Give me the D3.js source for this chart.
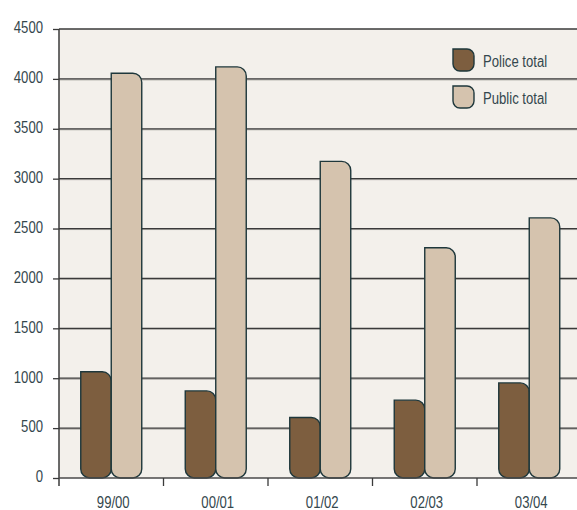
<!DOCTYPE html>
<html>
<head>
<meta charset="utf-8">
<script src="https://cdn.jsdelivr.net/npm/d3@7"></script>
<style>
  html, body { margin: 0; padding: 0; background: #ffffff; }
  svg { display: block; }
  text { font-family: "Liberation Sans", Arial, sans-serif; }
</style>
</head>
<body>
<svg id="chart" width="577" height="510"></svg>
<script>
// Data
const years = ["99/00", "00/01", "01/02", "02/03", "03/04"];
const policeTotal = [1065, 873, 607, 780, 953];
const publicTotal = [4057, 4120, 3173, 2307, 2607];
const seriesNames = ["Police total", "Public total"];
const yTicks = [0, 500, 1000, 1500, 2000, 2500, 3000, 3500, 4000, 4500];

const W = 577, H = 510;
const margin = { left: 59, top: 29 };
const bandWidth = 104.5;
const plotRight = margin.left + bandWidth * years.length; // runs past the right edge
const narrow = 0.82; // horizontal squeeze giving a condensed face

const colors = ["#7d5e3f", "#d5c3ae"];
const strokeColor = "#1e373b";
const textColor = "#34474d";
const lineColor = "#3a3a3a";

const svg = d3.select("#chart");

const x = d3.scaleBand().domain(years).range([margin.left, plotRight]);
const y = d3.scaleLinear().domain([0, 4500]).range([478, margin.top]);
const xs = d3.scaleBand().domain(seriesNames).range([0, 61]);

// Condensed text placed with its anchor at (px, py)
function label(parent, px, py, str, anchor) {
  return parent.append("text")
    .attr("transform", `translate(${px},${py}) scale(${narrow},1)`)
    .attr("text-anchor", anchor || "start")
    .attr("font-size", 16)
    .attr("fill", textColor)
    .text(str);
}

// Plot background
svg.append("rect")
  .attr("x", margin.left).attr("y", y(4500))
  .attr("width", W - margin.left).attr("height", y(0) - y(4500))
  .attr("fill", "#f3f0eb");

// Gridlines (dark line with a soft shadow)
const gridVals = yTicks.filter(d => d > 0 && d < 4500);
const grid = svg.append("g");
grid.selectAll("line.sh").data(gridVals).join("line")
  .attr("x1", margin.left).attr("x2", W)
  .attr("y1", d => y(d) + 1).attr("y2", d => y(d) + 1)
  .attr("stroke", "#a9a7a3").attr("stroke-width", 1);
grid.selectAll("line.g").data(gridVals).join("line")
  .attr("x1", margin.left).attr("x2", W)
  .attr("y1", d => y(d)).attr("y2", d => y(d))
  .attr("stroke", lineColor).attr("stroke-width", 1.3);

// Bar shape: square top-left, rounded top-right and bottom corners
function barPath(x0, x1, yTop, yBot, r) {
  const h = yBot - yTop;
  const rr = Math.min(r, h / 2, (x1 - x0) / 2);
  return `M${x0},${yTop} H${x1 - rr} A${rr},${rr} 0 0 1 ${x1},${yTop + rr} ` +
         `V${yBot - rr} A${rr},${rr} 0 0 1 ${x1 - rr},${yBot} H${x0 + rr} ` +
         `A${rr},${rr} 0 0 1 ${x0},${yBot - rr} Z`;
}

const groupOffset = (bandWidth - xs.range()[1]) / 2;
[policeTotal, publicTotal].forEach((vals, si) => {
  svg.append("g").selectAll("path").data(years).join("path")
    .attr("d", (d, i) => {
      const x0 = x(d) + groupOffset + xs(seriesNames[si]);
      return barPath(x0, x0 + xs.bandwidth(), y(vals[i]), y(0), 9);
    })
    .attr("fill", colors[si])
    .attr("stroke", strokeColor)
    .attr("stroke-width", 1.4);
});

// Top border
svg.append("line")
  .attr("x1", margin.left).attr("x2", W)
  .attr("y1", y(4500)).attr("y2", y(4500))
  .attr("stroke", lineColor).attr("stroke-width", 1.5);

// Left axis: ticks from d3, labels in the condensed face
const yAxis = d3.axisLeft(y).tickValues(yTicks).tickSize(6).tickFormat("");
const yg = svg.append("g").attr("transform", `translate(${margin.left},0)`).call(yAxis);
yg.select(".domain").remove();
yg.selectAll(".tick line").attr("stroke", lineColor).attr("stroke-width", 1.3);
const yLab = svg.append("g");
yTicks.forEach(v => label(yLab, 43, y(v) + 4.3, d3.format("d")(v), "end"));

svg.append("line")
  .attr("x1", margin.left).attr("x2", margin.left)
  .attr("y1", y(4500)).attr("y2", y(0) + 8)
  .attr("stroke", lineColor).attr("stroke-width", 1.5);

// Bottom axis with ticks at band boundaries
svg.append("line")
  .attr("x1", margin.left).attr("x2", W)
  .attr("y1", y(0)).attr("y2", y(0))
  .attr("stroke", "#4a4a4a").attr("stroke-width", 1.6);
svg.append("g").selectAll("line").data(years).join("line")
  .attr("x1", d => x(d) + x.bandwidth())
  .attr("x2", d => x(d) + x.bandwidth())
  .attr("y1", y(0)).attr("y2", y(0) + 8)
  .attr("stroke", lineColor).attr("stroke-width", 1.3);

const xLab = svg.append("g");
years.forEach(d => label(xLab, x(d) + x.bandwidth() / 2 + 2, 508, d, "middle"));

// Legend
const legend = svg.append("g").attr("transform", "translate(453,49)");
seriesNames.forEach((name, i) => {
  const g = legend.append("g").attr("transform", `translate(0,${i * 37})`);
  g.append("path").attr("d", barPath(0, 21, 0, 22, 7))
    .attr("fill", colors[i]).attr("stroke", strokeColor).attr("stroke-width", 1.4);
  label(g, 30, 17.5, name, "start");
});
</script>
</body>
</html>
